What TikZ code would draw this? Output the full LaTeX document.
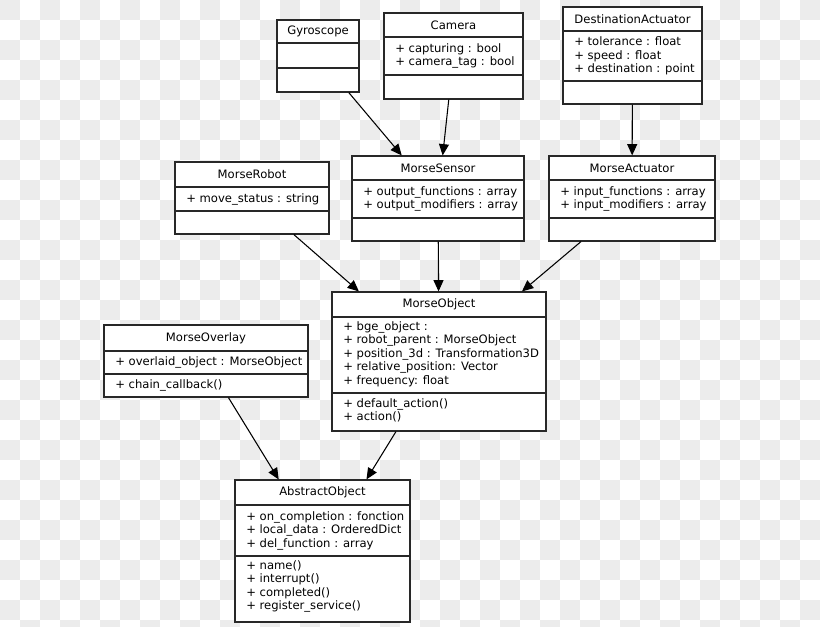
\documentclass[tikz,border=0pt]{standalone}
\usepackage{fontspec}
\setmainfont{DejaVu Sans}
\usepackage{tikz}
\usetikzlibrary{arrows.meta,fit}

\definecolor{checker}{RGB}{236,236,236}
\definecolor{frame}{RGB}{40,40,40}

\tikzset{
  classbox/.style={draw=frame, line width=0.85pt, fill=white, inner sep=0pt},
  divider/.style={draw=frame, line width=0.85pt},
  classname/.style={inner sep=0pt},
  members/.style={align=left, anchor=west, inner sep=0pt},
  inherit/.style={-{Triangle[length=8.5pt,width=7.5pt]}, line width=0.8pt}
}

% class frame: name, left, top, right, bottom, first divider, second divider
\newcommand{\classframe}[7]{%
  \node[classbox, fit={(#2,#3) (#4,#5)}] (#1) {};
  \draw[divider] (#2,#6) -- (#4,#6);
  \draw[divider] (#2,#7) -- (#4,#7);
}

\begin{document}
\begin{tikzpicture}[x=0.75pt,y=-0.75pt,font=\fontsize{8.7pt}{10.1pt}\selectfont]

\useasboundingbox (0,0) rectangle (820,627);

% Background checkerboard
\begin{scope}
\clip (0,0) rectangle (820,627);
\foreach \i in {0,2,...,40}
  \foreach \j in {0,2,...,30} {
    \fill[checker] (\i*20,\j*20) rectangle ++(20,20);
    \fill[checker] (\i*20+20,\j*20+20) rectangle ++(20,20);
  }
\end{scope}

% Top row
\classframe{gyro}{277}{20}{359}{92}{43}{68}
\node[classname] (gyroname) at (318,31.5) {Gyroscope};

\classframe{camera}{384}{13}{523}{99}{37}{75}
\node[classname] (cameraname) at (453.5,25) {Camera};
\node[members] (cameraattr) at (395,56) {+ capturing : bool\\+ camera\_tag : bool};

\classframe{dest}{563}{7}{702}{104}{31}{81}
\node[classname] (destname) at (632.5,19) {DestinationActuator};
\node[members] (destattr) at (574,56) {+ tolerance : float\\+ speed : float\\+ destination : point};

% Middle row
\classframe{robot}{175}{162}{329}{234}{187}{211}
\node[classname] (robotname) at (252,174.5) {MorseRobot};
\node[members] (robotattr) at (186,199) {+ move\_status : string};

\classframe{sensor}{352}{156}{524}{241}{180}{218}
\node[classname] (sensorname) at (438,168) {MorseSensor};
\node[members] (sensorattr) at (363,199) {+ output\_functions : array\\+ output\_modifiers : array};

\classframe{actuator}{549}{156}{715}{241}{180}{218}
\node[classname] (actuatorname) at (632,168) {MorseActuator};
\node[members] (actuatorattr) at (560,199) {+ input\_functions : array\\+ input\_modifiers : array};

% MorseObject and MorseOverlay
\classframe{object}{332}{292}{546}{431}{317}{393}
\node[classname] (objectname) at (439,304.5) {MorseObject};
\node[members] (objectattr) at (343,354) {+ bge\_object :\\+ robot\_parent : MorseObject\\+ position\_3d : Transformation3D\\+ relative\_position: Vector\\+ frequency: float};
\node[members] (objectmeth) at (343,410.5) {+ default\_action()\\+ action()};

\classframe{overlay}{104}{325}{308}{397}{351}{374}
\node[classname] (overlayname) at (206,338) {MorseOverlay};
\node[members] (overlayattr) at (115,362.5) {+ overlaid\_object : MorseObject};
\node[members] (overlaymeth) at (115,385) {+ chain\_callback()};

% AbstractObject
\classframe{abstract}{235}{480}{410}{622}{505}{556}
\node[classname] (abstractname) at (322.5,492.5) {AbstractObject};
\node[members] (abstractattr) at (246,530.5) {+ on\_completion : fonction\\+ local\_data : OrderedDict\\+ del\_function : array};
\node[members] (abstractmeth) at (246,586.5) {+ name()\\+ interrupt()\\+ completed()\\+ register\_service()};

% Inheritance arrows
\draw[inherit] (gyro) -- (sensor);
\draw[inherit] (camera) -- (sensor);
\draw[inherit] (dest) -- (actuator);
\draw[inherit] (robot) -- (object);
\draw[inherit] (sensor) -- (object);
\draw[inherit] (actuator) -- (object);
\draw[inherit] (overlay) -- (abstract);
\draw[inherit] (object) -- (abstract);

\end{tikzpicture}
\end{document}
